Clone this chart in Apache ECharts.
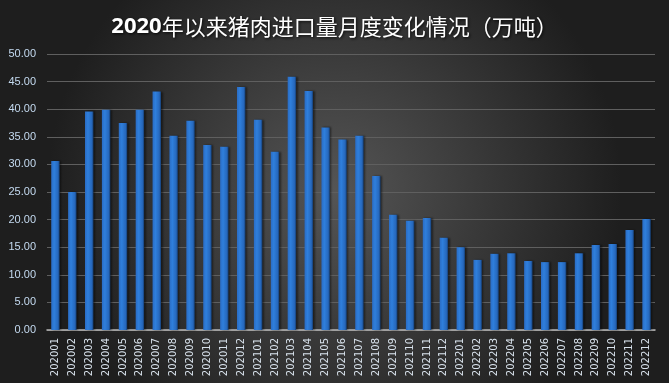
<!DOCTYPE html>
<html><head><meta charset="utf-8">
<script src="https://cdn.jsdelivr.net/npm/echarts@6/dist/echarts.min.js"></script>
<style>html,body{margin:0;padding:0;}#c{width:669px;height:383px;}</style>
</head><body><div id="c"></div>
<script>
var categories = ['202001','202002','202003','202004','202005','202006','202007','202008','202009','202010','202011','202012',
'202101','202102','202103','202104','202105','202106','202107','202108','202109','202110','202111','202112',
'202201','202202','202203','202204','202205','202206','202207','202208','202209','202210','202211','202212'];
var imports = [30.6,25.0,39.6,39.9,37.5,39.9,43.2,35.2,37.9,33.5,33.2,44.0,
38.1,32.3,45.9,43.3,36.7,34.5,35.2,27.9,20.9,19.8,20.3,16.7,
15.0,12.7,13.8,13.9,12.5,12.3,12.3,13.9,15.4,15.6,18.1,20.1];
var titleYear = '2020';
var titleRest = '年以来猪肉进口量月度变化情况（万吨）';

var shadow = {textShadowColor: 'rgba(0,0,0,0.85)', textShadowBlur: 3, textShadowOffsetX: 1, textShadowOffsetY: 1};
var chart = echarts.init(document.getElementById('c'));
chart.setOption({
  animation: false,
  backgroundColor: {
    type: 'radial', x: 0.5, y: 0.5, r: 0.75,
    colorStops: [{offset: 0, color: '#555555'}, {offset: 1, color: '#1e1e1e'}]
  },
  title: {
    text: '{a|' + titleYear + '}{b|' + titleRest + '}', left: 'center', top: 11,
    textStyle: {
      rich: {
        a: Object.assign({color: '#ffffff', fontSize: 22, fontWeight: 'bold', fontFamily: 'Open Sans'}, shadow),
        b: Object.assign({color: '#ffffff', fontSize: 22, fontWeight: 'normal', fontFamily: 'Noto Sans CJK SC'}, shadow)
      }
    }
  },
  grid: {left: 47, right: 14, top: 54, bottom: 53, containLabel: false},
  xAxis: {
    type: 'category', data: categories,
    axisLine: {lineStyle: {color: '#b8b8b8', width: 1.5}},
    axisTick: {show: false},
    axisLabel: {rotate: 90, color: '#d8e2ec', fontSize: 10, interval: 0, margin: 8, fontFamily: 'DejaVu Sans'}
  },
  yAxis: {
    type: 'value', min: 0, max: 50, interval: 5,
    axisLine: {show: false}, axisTick: {show: false},
    axisLabel: {color: '#c4daf0', fontSize: 11, margin: 11, formatter: function(v){return v.toFixed(2);}, fontFamily: 'Liberation Sans'},
    splitLine: {lineStyle: {color: '#5f5f5f', width: 1}}
  },
  series: [{
    type: 'bar', data: imports, barWidth: '50%',
    itemStyle: {
      color: {type: 'linear', x: 0, y: 0, x2: 1, y2: 0,
        colorStops: [{offset: 0, color: '#2a6cc4'}, {offset: 0.35, color: '#2f7fdc'}, {offset: 0.8, color: '#2668bd'}, {offset: 1, color: '#163e72'}]},
      shadowColor: 'rgba(0,0,0,0.5)', shadowBlur: 2, shadowOffsetX: 1.5
    }
  }]
});
</script></body></html>
